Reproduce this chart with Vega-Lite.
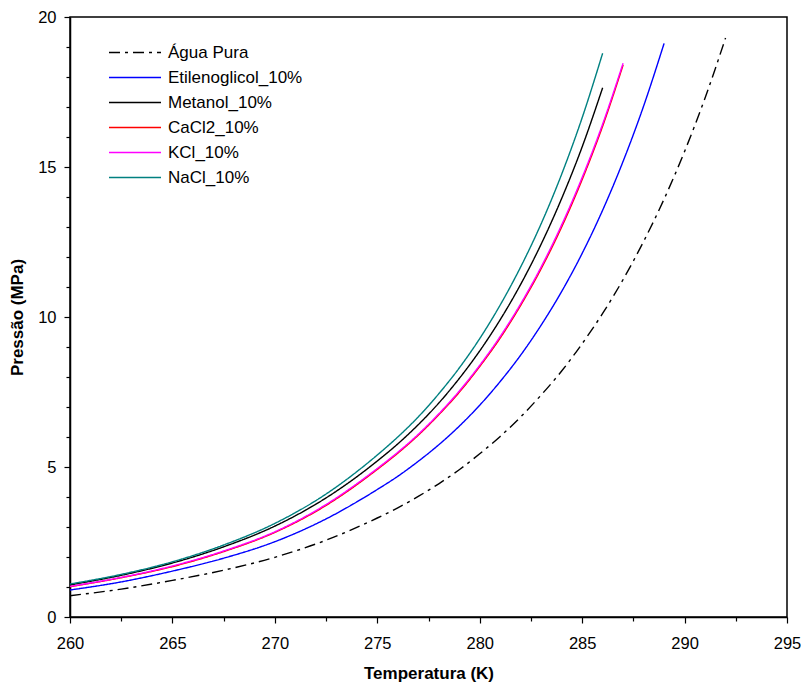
{
  "$schema": "https://vega.github.io/schema/vega-lite/v6.json",
  "width": 717,
  "height": 600,
  "autosize": {"type": "none"},
  "padding": {"left": 70, "top": 17, "right": 14, "bottom": 66},
  "config": {
    "view": {"stroke": "black", "strokeWidth": 1.5},
    "font": "Liberation Sans",
    "axis": {
      "domainColor": "black",
      "domainWidth": 1.5,
      "tickColor": "black",
      "tickWidth": 1.2,
      "labelColor": "black",
      "labelFont": "Liberation Sans",
      "labelFontSize": 16.5,
      "titleFont": "Liberation Sans",
      "titleFontSize": 17,
      "titleFontWeight": "bold",
      "titleColor": "black",
      "grid": false
    }
  },
  "data": {
    "values": [
      {"serie": "Água Pura", "T": 260, "P": 0.71},
      {"serie": "Água Pura", "T": 262.5, "P": 0.93},
      {"serie": "Água Pura", "T": 265, "P": 1.22},
      {"serie": "Água Pura", "T": 267.5, "P": 1.56},
      {"serie": "Água Pura", "T": 270, "P": 1.99},
      {"serie": "Água Pura", "T": 272.5, "P": 2.56},
      {"serie": "Água Pura", "T": 275, "P": 3.30},
      {"serie": "Água Pura", "T": 276, "P": 3.64},
      {"serie": "Água Pura", "T": 277, "P": 4.02},
      {"serie": "Água Pura", "T": 278, "P": 4.44},
      {"serie": "Água Pura", "T": 279, "P": 4.91},
      {"serie": "Água Pura", "T": 280, "P": 5.44},
      {"serie": "Água Pura", "T": 281, "P": 6.02},
      {"serie": "Água Pura", "T": 282, "P": 6.67},
      {"serie": "Água Pura", "T": 283, "P": 7.40},
      {"serie": "Água Pura", "T": 284, "P": 8.20},
      {"serie": "Água Pura", "T": 285, "P": 9.11},
      {"serie": "Água Pura", "T": 286, "P": 10.12},
      {"serie": "Água Pura", "T": 287, "P": 11.25},
      {"serie": "Água Pura", "T": 288, "P": 12.52},
      {"serie": "Água Pura", "T": 289, "P": 13.93},
      {"serie": "Água Pura", "T": 290, "P": 15.52},
      {"serie": "Água Pura", "T": 291, "P": 17.30},
      {"serie": "Água Pura", "T": 292, "P": 19.30},

      {"serie": "Etilenoglicol_10%", "T": 260, "P": 0.90},
      {"serie": "Etilenoglicol_10%", "T": 262.5, "P": 1.17},
      {"serie": "Etilenoglicol_10%", "T": 265, "P": 1.53},
      {"serie": "Etilenoglicol_10%", "T": 267.5, "P": 1.96},
      {"serie": "Etilenoglicol_10%", "T": 270, "P": 2.51},
      {"serie": "Etilenoglicol_10%", "T": 272.5, "P": 3.27},
      {"serie": "Etilenoglicol_10%", "T": 275, "P": 4.25},
      {"serie": "Etilenoglicol_10%", "T": 276, "P": 4.69},
      {"serie": "Etilenoglicol_10%", "T": 277, "P": 5.19},
      {"serie": "Etilenoglicol_10%", "T": 278, "P": 5.74},
      {"serie": "Etilenoglicol_10%", "T": 279, "P": 6.36},
      {"serie": "Etilenoglicol_10%", "T": 280, "P": 7.06},
      {"serie": "Etilenoglicol_10%", "T": 281, "P": 7.85},
      {"serie": "Etilenoglicol_10%", "T": 282, "P": 8.73},
      {"serie": "Etilenoglicol_10%", "T": 283, "P": 9.73},
      {"serie": "Etilenoglicol_10%", "T": 284, "P": 10.85},
      {"serie": "Etilenoglicol_10%", "T": 285, "P": 12.12},
      {"serie": "Etilenoglicol_10%", "T": 286, "P": 13.56},
      {"serie": "Etilenoglicol_10%", "T": 287, "P": 15.19},
      {"serie": "Etilenoglicol_10%", "T": 288, "P": 17.03},
      {"serie": "Etilenoglicol_10%", "T": 289, "P": 19.12},

      {"serie": "Metanol_10%", "T": 260, "P": 1.07},
      {"serie": "Metanol_10%", "T": 262.5, "P": 1.39},
      {"serie": "Metanol_10%", "T": 265, "P": 1.80},
      {"serie": "Metanol_10%", "T": 267.5, "P": 2.34},
      {"serie": "Metanol_10%", "T": 270, "P": 3.03},
      {"serie": "Metanol_10%", "T": 272.5, "P": 3.97},
      {"serie": "Metanol_10%", "T": 275, "P": 5.20},
      {"serie": "Metanol_10%", "T": 276, "P": 5.77},
      {"serie": "Metanol_10%", "T": 277, "P": 6.41},
      {"serie": "Metanol_10%", "T": 278, "P": 7.13},
      {"serie": "Metanol_10%", "T": 279, "P": 7.95},
      {"serie": "Metanol_10%", "T": 280, "P": 8.87},
      {"serie": "Metanol_10%", "T": 281, "P": 9.91},
      {"serie": "Metanol_10%", "T": 282, "P": 11.09},
      {"serie": "Metanol_10%", "T": 283, "P": 12.43},
      {"serie": "Metanol_10%", "T": 284, "P": 13.95},
      {"serie": "Metanol_10%", "T": 285, "P": 15.67},
      {"serie": "Metanol_10%", "T": 286, "P": 17.64},

      {"serie": "CaCl2_10%", "T": 260, "P": 1.01},
      {"serie": "CaCl2_10%", "T": 262.5, "P": 1.31},
      {"serie": "CaCl2_10%", "T": 265, "P": 1.68},
      {"serie": "CaCl2_10%", "T": 267.5, "P": 2.18},
      {"serie": "CaCl2_10%", "T": 270, "P": 2.82},
      {"serie": "CaCl2_10%", "T": 272.5, "P": 3.72},
      {"serie": "CaCl2_10%", "T": 275, "P": 4.92},
      {"serie": "CaCl2_10%", "T": 276, "P": 5.46},
      {"serie": "CaCl2_10%", "T": 277, "P": 6.06},
      {"serie": "CaCl2_10%", "T": 278, "P": 6.74},
      {"serie": "CaCl2_10%", "T": 279, "P": 7.49},
      {"serie": "CaCl2_10%", "T": 280, "P": 8.35},
      {"serie": "CaCl2_10%", "T": 281, "P": 9.30},
      {"serie": "CaCl2_10%", "T": 282, "P": 10.39},
      {"serie": "CaCl2_10%", "T": 283, "P": 11.61},
      {"serie": "CaCl2_10%", "T": 284, "P": 13.00},
      {"serie": "CaCl2_10%", "T": 285, "P": 14.58},
      {"serie": "CaCl2_10%", "T": 286, "P": 16.36},
      {"serie": "CaCl2_10%", "T": 287, "P": 18.40},

      {"serie": "KCl_10%", "T": 260, "P": 1.02},
      {"serie": "KCl_10%", "T": 262.5, "P": 1.32},
      {"serie": "KCl_10%", "T": 265, "P": 1.70},
      {"serie": "KCl_10%", "T": 267.5, "P": 2.20},
      {"serie": "KCl_10%", "T": 270, "P": 2.84},
      {"serie": "KCl_10%", "T": 272.5, "P": 3.75},
      {"serie": "KCl_10%", "T": 275, "P": 4.95},
      {"serie": "KCl_10%", "T": 276, "P": 5.49},
      {"serie": "KCl_10%", "T": 277, "P": 6.09},
      {"serie": "KCl_10%", "T": 278, "P": 6.77},
      {"serie": "KCl_10%", "T": 279, "P": 7.53},
      {"serie": "KCl_10%", "T": 280, "P": 8.39},
      {"serie": "KCl_10%", "T": 281, "P": 9.35},
      {"serie": "KCl_10%", "T": 282, "P": 10.44},
      {"serie": "KCl_10%", "T": 283, "P": 11.67},
      {"serie": "KCl_10%", "T": 284, "P": 13.07},
      {"serie": "KCl_10%", "T": 285, "P": 14.65},
      {"serie": "KCl_10%", "T": 286, "P": 16.43},
      {"serie": "KCl_10%", "T": 287, "P": 18.46},

      {"serie": "NaCl_10%", "T": 260, "P": 1.10},
      {"serie": "NaCl_10%", "T": 262.5, "P": 1.42},
      {"serie": "NaCl_10%", "T": 265, "P": 1.84},
      {"serie": "NaCl_10%", "T": 267.5, "P": 2.40},
      {"serie": "NaCl_10%", "T": 270, "P": 3.12},
      {"serie": "NaCl_10%", "T": 272.5, "P": 4.10},
      {"serie": "NaCl_10%", "T": 275, "P": 5.40},
      {"serie": "NaCl_10%", "T": 276, "P": 6.00},
      {"serie": "NaCl_10%", "T": 277, "P": 6.67},
      {"serie": "NaCl_10%", "T": 278, "P": 7.44},
      {"serie": "NaCl_10%", "T": 279, "P": 8.30},
      {"serie": "NaCl_10%", "T": 280, "P": 9.28},
      {"serie": "NaCl_10%", "T": 281, "P": 10.40},
      {"serie": "NaCl_10%", "T": 282, "P": 11.67},
      {"serie": "NaCl_10%", "T": 283, "P": 13.11},
      {"serie": "NaCl_10%", "T": 284, "P": 14.76},
      {"serie": "NaCl_10%", "T": 285, "P": 16.64},
      {"serie": "NaCl_10%", "T": 286, "P": 18.79}
    ]
  },
  "layer": [
    {
      "mark": {"type": "line", "interpolate": "monotone", "strokeWidth": 1.4},
      "encoding": {
        "x": {
          "field": "T",
          "type": "quantitative",
          "scale": {"domain": [260, 295], "nice": false, "zero": false},
          "axis": {
            "orient": "bottom",
            "values": [260, 265, 270, 275, 280, 285, 290, 295],
            "title": "Temperatura (K)",
            "tickSize": 6,
            "labelPadding": 12,
            "titlePadding": 14,
            "labelFlush": false,
            "labelOverlap": false
          }
        },
        "y": {
          "field": "P",
          "type": "quantitative",
          "scale": {"domain": [0, 20], "nice": false},
          "axis": {
            "orient": "left",
            "values": [0, 5, 10, 15, 20],
            "title": "Pressão (MPa)",
            "tickSize": 6,
            "labelPadding": 8,
            "titlePadding": 11,
            "labelFlush": false,
            "labelOverlap": false
          }
        },
        "color": {
          "field": "serie",
          "type": "nominal",
          "scale": {
            "domain": ["Água Pura", "Etilenoglicol_10%", "Metanol_10%", "CaCl2_10%", "KCl_10%", "NaCl_10%"],
            "range": ["#000000", "#0000ff", "#000000", "#ff0000", "#ff00ff", "#008080"]
          },
          "legend": {
            "orient": "none",
            "legendX": 38,
            "legendY": 23,
            "title": null,
            "symbolType": "stroke",
            "symbolSize": 2704,
            "symbolStrokeWidth": 1.6,
            "labelFontSize": 17,
            "labelFont": "Liberation Sans",
            "labelColor": "black",
            "clipHeight": 25,
            "rowPadding": 0,
            "labelOffset": 6,
            "padding": 0
          }
        },
        "strokeDash": {
          "field": "serie",
          "type": "nominal",
          "scale": {
            "domain": ["Água Pura", "Etilenoglicol_10%", "Metanol_10%", "CaCl2_10%", "KCl_10%", "NaCl_10%"],
            "range": [[11, 5, 3, 5], [1, 0], [1, 0], [1, 0], [1, 0], [1, 0]]
          },
          "legend": {
            "orient": "none",
            "legendX": 38,
            "legendY": 23,
            "title": null,
            "symbolType": "stroke",
            "symbolSize": 2704,
            "symbolStrokeWidth": 1.6,
            "labelFontSize": 17,
            "labelFont": "Liberation Sans",
            "labelColor": "black",
            "clipHeight": 25,
            "rowPadding": 0,
            "labelOffset": 6,
            "padding": 0
          }
        }
      }
    },
    {
      "mark": {"type": "line", "opacity": 0},
      "encoding": {
        "x": {
          "field": "T",
          "type": "quantitative",
          "axis": {
            "orient": "bottom",
            "values": [262.5, 267.5, 272.5, 277.5, 282.5, 287.5, 292.5],
            "labels": false,
            "domain": false,
            "title": null,
            "tickSize": 4
          }
        },
        "y": {
          "field": "P",
          "type": "quantitative",
          "axis": {
            "orient": "left",
            "values": [1, 2, 3, 4, 6, 7, 8, 9, 11, 12, 13, 14, 16, 17, 18, 19],
            "labels": false,
            "domain": false,
            "title": null,
            "tickSize": 4
          }
        },
        "detail": {"field": "serie", "type": "nominal"}
      }
    }
  ],
  "resolve": {"axis": {"x": "independent", "y": "independent"}}
}
